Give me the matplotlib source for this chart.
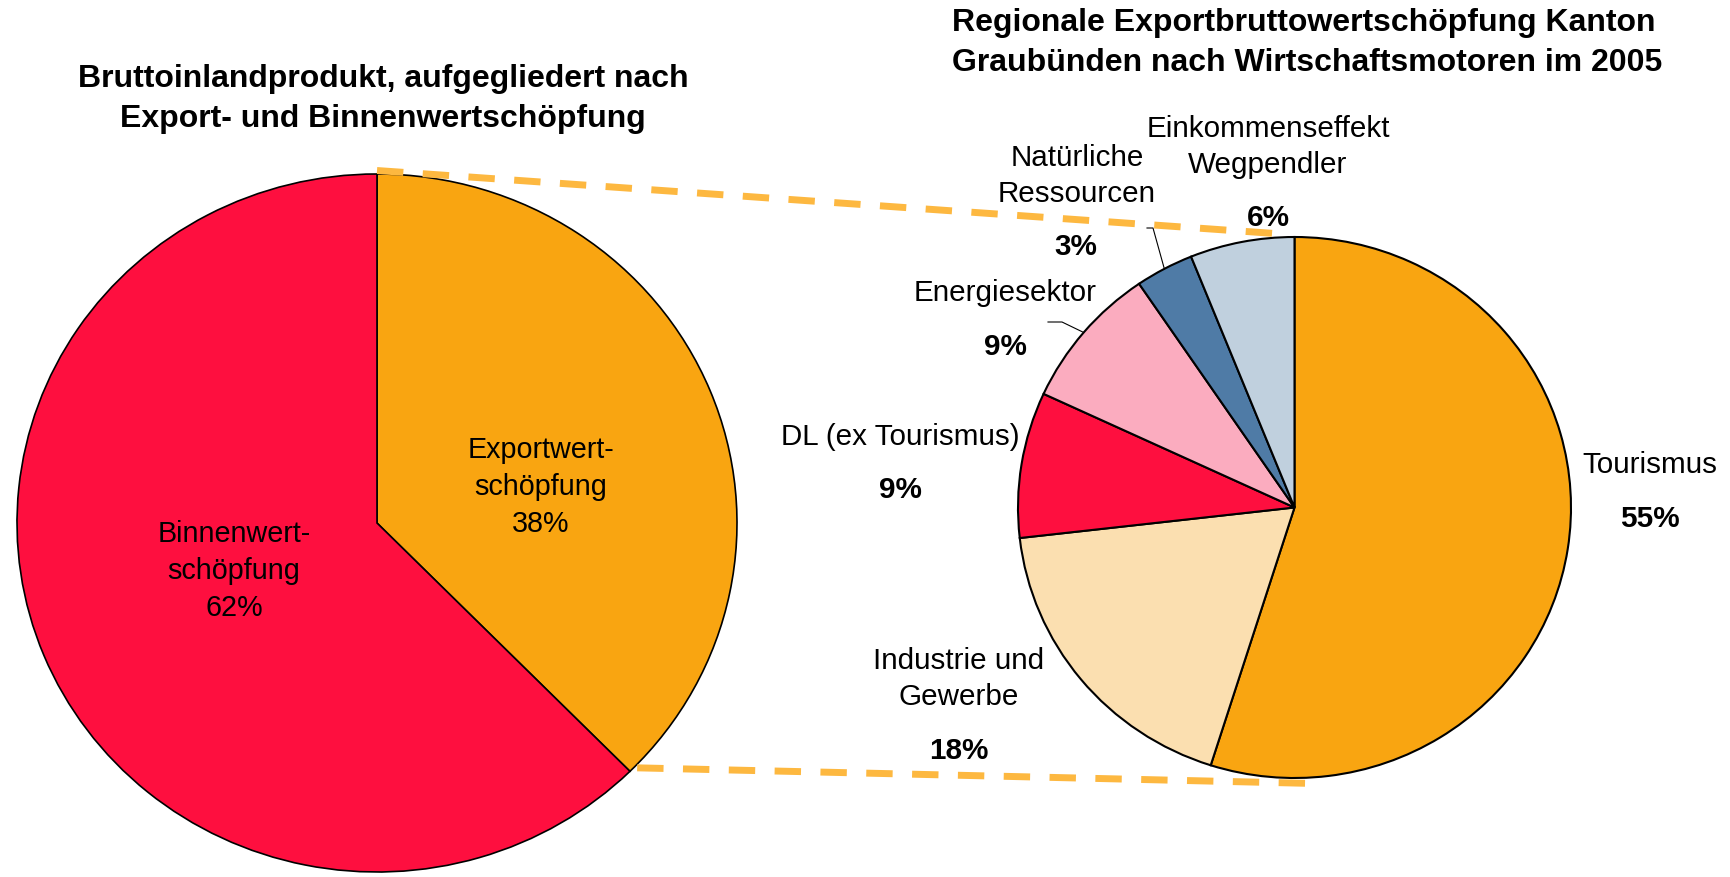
import matplotlib.pyplot as plt
from matplotlib.patches import ConnectionPatch
import numpy as np

# Linker Kreis: BIP nach Export- und Binnenwertschoepfung
bip_labels = ["Exportwert-\nschöpfung", "Binnenwert-\nschöpfung"]
bip_werte = [37.6, 62.4]
bip_farben = ["#F9A511", "#FE0F3F"]

# Rechter Kreis: Exportbruttowertschoepfung nach Wirtschaftsmotoren
exp_labels = ["Tourismus", "Industrie und\nGewerbe", "DL (ex Tourismus)", "Energiesektor",
              "Natürliche\nRessourcen", "Einkommenseffekt\nWegpendler"]
exp_werte = [54.9, 18.3, 8.7, 8.6, 3.4, 6.1]
exp_farben = ["#F9A511", "#FBDFB0", "#FE0F3F", "#FBACBF", "#4F7BA6", "#C0D0DE"]

W, H = 1731, 877
fig = plt.figure(figsize=(W / 100, H / 100), dpi=100)
plt.rcParams['font.family'] = ['Liberation Sans', 'DejaVu Sans']


def fx(px):
    return px / W


def fy(py):
    return 1 - py / H


# ---------------- linker Kreis ----------------
ax1 = fig.add_axes([fx(17), fy(872), 720 / W, 698 / H])
w1, _ = ax1.pie(bip_werte, colors=bip_farben, startangle=90, counterclock=False,
                wedgeprops=dict(edgecolor="black", linewidth=1.2))
ax1.set_aspect('auto')
ax1.set_xlim(-1, 1)
ax1.set_ylim(-1, 1)

# Beschriftung im Kreis
pos1 = [(541, 487), (234, 571)]
for lab, v, (px, py) in zip(bip_labels, bip_werte, pos1):
    fig.text(fx(px), fy(py), f"{lab}\n{round(v)}%", ha="center", va="center", fontsize=20.7,
             linespacing=1.4)

fig.text(fx(383), fy(99), "Bruttoinlandprodukt, aufgegliedert nach\nExport- und Binnenwertschöpfung",
         ha="center", va="center", fontsize=23, fontweight="bold", linespacing=1.45)

# ---------------- rechter Kreis ----------------
ax2 = fig.add_axes([fx(1018), fy(778), 553 / W, 541 / H])
w2, _ = ax2.pie(exp_werte, colors=exp_farben, startangle=90, counterclock=False,
                wedgeprops=dict(edgecolor="black", linewidth=1.5))
ax2.set_aspect('auto')
ax2.set_xlim(-1, 1)
ax2.set_ylim(-1, 1)

# Position der Beschriftungen (Pixel) : Name, Prozent
pos2 = [((1650, 465), (1650, 519)),
        ((959, 679), (959, 751)),
        ((900, 437), (900, 490)),
        ((1005, 293), (1005, 347)),
        ((1077, 176), (1076, 247)),
        ((1268, 147), (1268, 218))]
for lab, v, (p_lab, p_pct) in zip(exp_labels, exp_werte, pos2):
    fig.text(fx(p_lab[0]), fy(p_lab[1]), lab, ha="center", va="center", fontsize=21.3,
             linespacing=1.33)
    fig.text(fx(p_pct[0]), fy(p_pct[1]), f"{round(v)}%", ha="center", va="center",
             fontsize=21.3, fontweight="bold")

# Fuehrungslinien fuer Energiesektor und Natuerliche Ressourcen
for i, knick in [(3, (1048, 1062, 322)), (4, (1147, 1153, 228))]:
    mid = np.deg2rad((w2[i].theta1 + w2[i].theta2) / 2)
    x0, y0 = np.cos(mid), np.sin(mid)
    # Pixel in Datenkoordinaten des rechten Kreises
    xa = (knick[0] - 1294.5) / 276.5
    xb = (knick[1] - 1294.5) / 276.5
    yk = (507.5 - knick[2]) / 270.5
    ax2.plot([xa, xb, x0], [yk, yk, y0], color="black", linewidth=0.8, clip_on=False)

fig.text(fx(952), fy(43), "Regionale Exportbruttowertschöpfung Kanton\nGraubünden nach Wirtschaftsmotoren im 2005",
         ha="left", va="center", fontsize=23, fontweight="bold", linespacing=1.47)

# ---------------- Verbindungslinien ----------------
grenze = np.deg2rad(90 - 360 * bip_werte[0] / 100)
verb = [((0, 1.01), (-0.03, 1.01)),
        ((np.cos(grenze) + 0.02, np.sin(grenze) + 0.01), (0.06, -1.02))]
for a, b in verb:
    con = ConnectionPatch(xyA=a, coordsA=ax1.transData, xyB=b, coordsB=ax2.transData,
                          color="#FDB840", linewidth=5, linestyle=(0, (3.8, 2.8)),
                          capstyle="butt", zorder=5)
    fig.add_artist(con)

fig.savefig("out.png", dpi=100)
